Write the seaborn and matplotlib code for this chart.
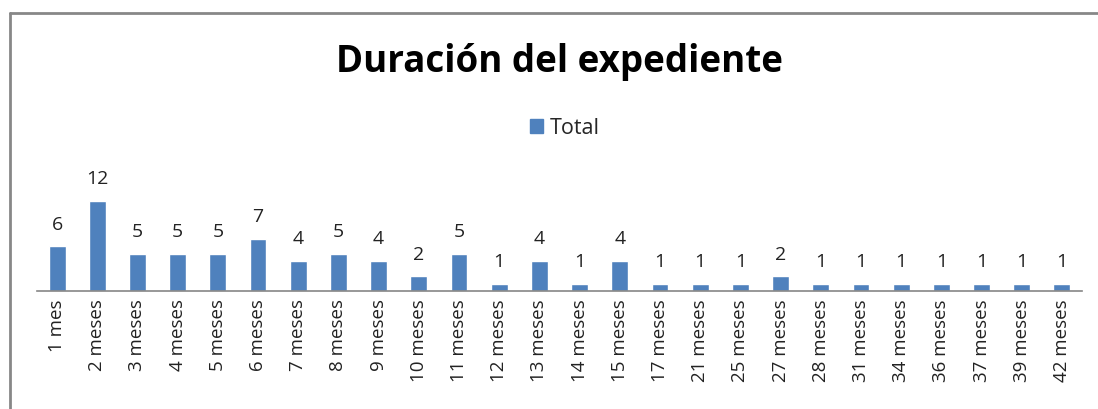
import matplotlib
matplotlib.use("Agg")
import matplotlib.pyplot as plt
import seaborn as sns
import pandas as pd
from matplotlib.lines import Line2D
from matplotlib.patches import Patch

# === Data ===
months = [1, 2, 3, 4, 5, 6, 7, 8, 9, 10, 11, 12, 13, 14, 15,
          17, 21, 25, 27, 28, 31, 34, 36, 37, 39, 42]
labels = ["1 mes"] + [f"{m} meses" for m in months[1:]]
totals = [6, 12, 5, 5, 5, 7, 4, 5, 4, 2, 5, 1, 4, 1, 4,
          1, 1, 1, 2, 1, 1, 1, 1, 1, 1, 1]

df = pd.DataFrame({"Duracion": labels, "Total": totals})

sns.set_theme(style="white")
plt.rcParams["font.family"] = ["Open Sans", "DejaVu Sans"]

W, H = 1098, 409
fig = plt.figure(figsize=(W / 100, H / 100), dpi=100)
ax = fig.add_axes([37 / W, (H - 291) / H, (1082 - 37) / W, 105 / H])

bar_color = "#4F81BD"
sns.barplot(data=df, x="Duracion", y="Total", color=bar_color, width=0.42,
            saturation=1, ax=ax)
ax.set_ylim(0, 14)
ax.set_xlim(-0.5, len(labels) - 0.5)

for c in ax.containers:
    ax.bar_label(c, padding=9, fontsize=14, color="#222222", clip_on=False)

ax.set_xlabel("")
ax.set_ylabel("")
ax.set_yticks([])
ax.tick_params(axis="x", length=0, pad=6)
plt.setp(ax.get_xticklabels(), rotation=90, fontsize=13.5, color="#222222")
for s in ["top", "right", "left"]:
    ax.spines[s].set_visible(False)
ax.spines["bottom"].set_color("#868686")
ax.spines["bottom"].set_linewidth(1.2)

# title and legend
fig.text(560 / W, 1 - 62 / H, "Duración del expediente", ha="center", va="center",
         fontsize=26.5, fontweight="bold", color="black")
fig.legend(handles=[Patch(color=bar_color, label="Total")], loc="center",
           bbox_to_anchor=(565 / W, 1 - 128 / H), frameon=False, fontsize=15.5,
           handlelength=0.6, handleheight=0.6, handletextpad=0.3)

# outer frame (top and left only visible)
frame_c = "#878787"
fig.add_artist(Line2D([10 / W, 1], [1 - 13 / H, 1 - 13 / H], color=frame_c, lw=2))
fig.add_artist(Line2D([10 / W, 10 / W], [0, 1 - 13 / H], color=frame_c, lw=2))

fig.savefig("out.png", dpi=100)
